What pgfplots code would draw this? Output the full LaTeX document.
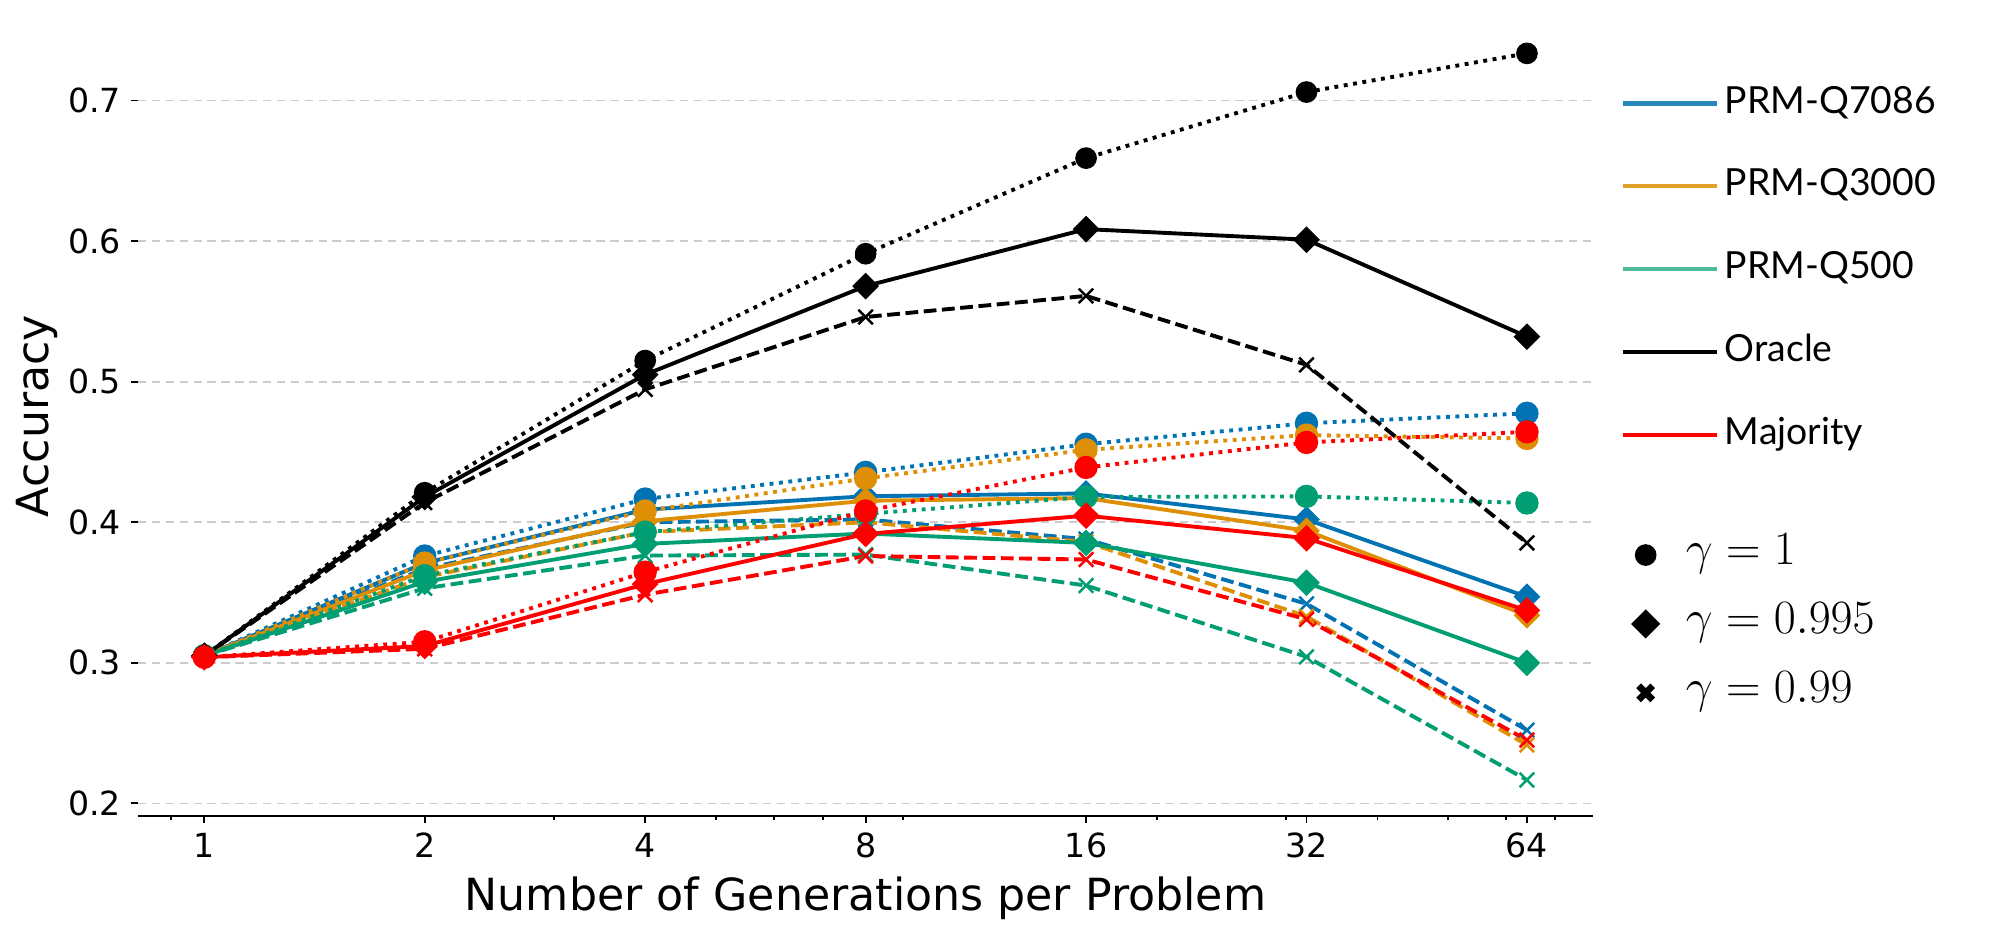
\documentclass[border=0pt]{standalone}
\usepackage{fontspec}
\setmainfont{DejaVu Sans}
\newfontfamily\legfont{Lato}
\usepackage{pgfplots}
\pgfplotsset{compat=1.18}
\definecolor{cblue}{HTML}{0173B2}
\definecolor{corange}{HTML}{DE8F05}
\definecolor{cgreen}{HTML}{029E73}
\definecolor{cred}{HTML}{FF0000}
\pgfplotsset{
  gdot/.style={line width=1.4bp, dash pattern=on 1.4bp off 2bp, mark=*, mark size=3.5bp, mark options={solid}, forget plot},
  gsol/.style={line width=1.4bp, solid, mark=square*, mark size=2.7bp, mark options={solid, rotate=45}, forget plot},
  gdash/.style={line width=1.4bp, dash pattern=on 4.6bp off 2bp, mark=x, mark size=3.7bp, mark options={solid, line width=0.9bp}, forget plot},
}
\begin{document}
\begin{tikzpicture}
\path[use as bounding box] (-49.7bp,-43.2bp) rectangle (670.3bp,293.8bp);
\begin{axis}[
  at={(0,0)}, anchor=south west,
  scale only axis, width=523.8bp, height=288bp,
  xmode=log,
  xmin=0.812, xmax=78.8, ymin=0.191, ymax=0.760,
  xtick={1,2,4,8,16,32,64}, xticklabels={1,2,4,8,16,32,64},
  minor xtick={0.9,3,5,6,7,9,20,30,40,50,60,70},
  ytick={0.2,0.3,0.4,0.5,0.6,0.7}, yticklabels={0.2,0.3,0.4,0.5,0.6,0.7},
  axis lines*=left, y axis line style={draw=none}, x axis line style={line width=0.8bp},
  tick align=outside, major tick length=2.6bp, minor tick length=1.5bp,
  tick style={black, line width=0.7bp},
  ymajorgrids, major grid style={black!20, dash pattern=on 3bp off 2bp, line width=0.6bp},
  ticklabel style={font=\fontsize{12}{12}\selectfont},
  xlabel={Number of Generations per Problem}, ylabel={Accuracy},
  label style={font=\fontsize{16}{16}\selectfont},
  ylabel shift=-3bp,
  /pgf/number format/assume math mode=true,
  legend style={at={(1.0186,0.921)}, anchor=north west, draw=none, fill=none,
    inner sep=0pt, row sep=12.8bp, font=\legfont\fontsize{13.5}{13.5}\selectfont,
    nodes={text height=10bp, text depth=3bp, inner sep=2bp}},
  legend cell align=left,
  legend image code/.code={\draw[#1] (0bp,0bp) -- (34bp,0bp);},
]
\addlegendimage{cblue!85!white, line width=1.5bp}\addlegendentry{PRM-Q7086}
\addlegendimage{corange!85!white, line width=1.5bp}\addlegendentry{PRM-Q3000}
\addlegendimage{cgreen!70!white, line width=1.5bp}\addlegendentry{PRM-Q500}
\addlegendimage{black, line width=1.5bp}\addlegendentry{Oracle}
\addlegendimage{cred, line width=1.5bp}\addlegendentry{Majority}
% PRM-Q7086
\addplot[cblue, gdot] coordinates {(1,0.305) (2,0.376) (4,0.4165) (8,0.4355) (16,0.4555) (32,0.4704) (64,0.4775)};
\addplot[cblue, gsol] coordinates {(1,0.305) (2,0.371) (4,0.409) (8,0.4185) (16,0.4205) (32,0.402) (64,0.347)};
\addplot[cblue, gdash] coordinates {(1,0.305) (2,0.367) (4,0.400) (8,0.402) (16,0.388) (32,0.342) (64,0.2522)};
% PRM-Q3000
\addplot[corange, gdot] coordinates {(1,0.305) (2,0.371) (4,0.408) (8,0.4312) (16,0.4515) (32,0.462) (64,0.4596)};
\addplot[corange, gsol] coordinates {(1,0.305) (2,0.3657) (4,0.4007) (8,0.4153) (16,0.4172) (32,0.394) (64,0.3338)};
\addplot[corange, gdash] coordinates {(1,0.305) (2,0.361) (4,0.393) (8,0.400) (16,0.386) (32,0.333) (64,0.2416)};
% PRM-Q500
\addplot[cgreen, gdot] coordinates {(1,0.305) (2,0.362) (4,0.393) (8,0.406) (16,0.418) (32,0.4184) (64,0.4137)};
\addplot[cgreen, gsol] coordinates {(1,0.305) (2,0.3577) (4,0.3846) (8,0.392) (16,0.3853) (32,0.357) (64,0.300)};
\addplot[cgreen, gdash] coordinates {(1,0.305) (2,0.353) (4,0.3763) (8,0.377) (16,0.355) (32,0.3043) (64,0.2167)};
% Oracle
\addplot[black, gdot, mark size=3.2bp] coordinates {(1,0.305) (2,0.421) (4,0.515) (8,0.591) (16,0.659) (32,0.706) (64,0.7335)};
\addplot[black, gsol] coordinates {(1,0.305) (2,0.418) (4,0.505) (8,0.568) (16,0.6085) (32,0.601) (64,0.532)};
\addplot[black, gdash] coordinates {(1,0.305) (2,0.414) (4,0.4945) (8,0.546) (16,0.561) (32,0.512) (64,0.3853)};
% Majority
\addplot[cred, gdot] coordinates {(1,0.304) (2,0.315) (4,0.3645) (8,0.408) (16,0.439) (32,0.4568) (64,0.4643)};
\addplot[cred, gsol] coordinates {(1,0.304) (2,0.312) (4,0.356) (8,0.3917) (16,0.4047) (32,0.3887) (64,0.3373)};
\addplot[cred, gdash] coordinates {(1,0.304) (2,0.310) (4,0.3485) (8,0.376) (16,0.3735) (32,0.331) (64,0.2451)};
\end{axis}
\begin{axis}[
  at={(0,0)}, anchor=south west,
  scale only axis, width=523.8bp, height=288bp,
  hide axis, xmin=0, xmax=1, ymin=0, ymax=1,
  legend style={at={(1.0224,0.36)}, anchor=north west, draw=none, fill=none,
    inner sep=0pt, row sep=5.8bp, font=\fontsize{16}{16}\selectfont,
    nodes={text height=11bp, text depth=4bp, inner sep=2bp}},
  legend cell align=left,
  legend image code/.code={\path[draw=none, fill=none] (0bp,0bp) rectangle (19.5bp,0.1bp); \draw[#1] plot coordinates {(7bp,0bp)};},
]
\addlegendimage{black, mark=*, mark size=3.7bp}\addlegendentry{$\gamma = 1$}
\addlegendimage{black, mark=square*, mark size=3.5bp, mark options={rotate=45}}\addlegendentry{$\gamma = 0.995$}
\addlegendimage{black, mark=x, mark size=3.6bp, mark options={line width=2.4bp}}\addlegendentry{$\gamma = 0.99$}
\end{axis}
\end{tikzpicture}
\end{document}
